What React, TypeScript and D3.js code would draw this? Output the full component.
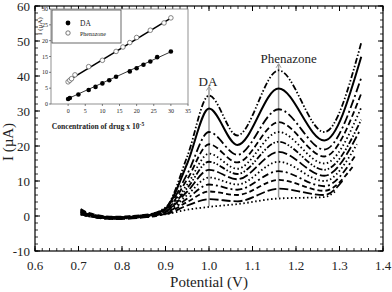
import React from "react";
import * as d3 from "d3";

// ---------- main chart data ----------
const xTicks = [0.6, 0.7, 0.8, 0.9, 1.0, 1.1, 1.2, 1.3, 1.4];
const yTicks = [-10, 0, 10, 20, 30, 40, 50, 60];

// control potentials (V) shared by all voltammograms (last point = endPotential)
const controlPotentials = [0.705, 0.72, 0.78, 0.85, 0.9, 0.95, 1.0, 1.065, 1.16, 1.265];
const endPotential = [1.35, 1.35, 1.35, 1.35, 1.35, 1.35, 1.345, 1.34, 1.335, 1.33, 1.31, 1.29];

const iStart = [1.8, 1.5, 1.2, 2.0, 1.0, 1.6, 0.8, 1.3, 0.6, 1.1, 0.5, 0.4];
const i072 = [0.8, 0.6, 0.4, 1.0, 0.3, 0.7, 0.2, 0.5, 0.0, 0.4, 0.1, 0.0];
const i078 = [-0.3, -0.5, -0.8, -0.2, -0.6, -0.4, -0.9, -0.5, -0.7, -0.3, -0.6, -0.8];
const i085 = [0.2, 0.0, -0.2, 0.3, -0.3, 0.1, -0.4, -0.2, 0.1, -0.3, 0.2, -0.1];
const i090 = [2.4, 2.1, 1.9, 1.7, 1.5, 1.3, 1.2, 1.0, 0.9, 0.7, 0.6, 0.5];
const i095 = [17, 15, 12, 10.5, 9, 8, 7, 6, 5, 4, 3, 1.8];
const daPeak = [34.4, 30.7, 24.0, 20.5, 17.8, 15.5, 13.2, 11.0, 9.0, 7.0, 4.8, 2.6];
const valley1 = [23.0, 20.3, 17.5, 15.3, 13.5, 12.0, 10.5, 9.0, 7.5, 6.0, 4.2, 3.4];
const phenPeak = [41.6, 36.4, 30.5, 26.8, 24.0, 21.2, 18.3, 15.5, 12.8, 10.3, 7.8, 5.0];
const valley2 = [24.0, 21.6, 19.0, 17.0, 15.0, 13.2, 11.5, 10.0, 8.5, 7.2, 6.0, 5.4];
const iEnd = [49.5, 45.5, 39.5, 35.0, 31.0, 27.5, 24.0, 20.5, 17.0, 14.0, 10.5, 7.0];

const dashStyles = [
  "6,2,1.5,2,1.5,2",
  "none",
  "9,3,2,3",
  "6,3",
  "1.5,2.5",
  "6,2,1.5,2,1.5,2",
  "9,3",
  "1.5,2.5",
  "7,3,2,3",
  "5,3",
  "9,3",
  "1.5,2.5",
];

// arrows (V, µA)
const daArrow = { e: 1.0, from: 2.8, to: 37 };
const phenArrow = { e: 1.16, from: 5.3, to: 43.5 };

// ---------- inset data ----------
const daConc = [0, 0.5, 3, 6, 8, 10, 12, 14, 18, 20, 22, 24, 26, 30];
const daCurrent = [1.6, 1.9, 3.0, 4.4, 5.4, 6.5, 7.5, 8.6, 10.3, 11.3, 12.4, 13.4, 14.8, 16.6];
const phenConc = [0, 0.5, 1, 2, 6, 10, 14, 16, 18, 20, 24, 28, 30];
const phenCurrent = [7.0, 7.5, 8.0, 9.2, 11.8, 13.8, 16.6, 18.0, 19.4, 21.0, 23.3, 25.6, 27.2];
const daFit = [1.7, 16.5];
const phenFit = [7.4, 27.1];
const fitConc = [0, 30];
const insetXTicks = [0, 5, 10, 15, 20, 25, 30, 35];
const insetYTicks = [0, 5, 10, 15, 20, 25, 30];

const FONT = "'Liberation Serif', 'Times New Roman', serif";

export default function App() {
  const x = d3.scaleLinear().domain([0.6, 1.4]).range([35, 383]);
  const y = d3.scaleLinear().domain([-10, 60]).range([251, 6]);

  const curves = daPeak.map((_, k) => {
    const vals = [iStart[k], i072[k], i078[k], i085[k], i090[k], i095[k], daPeak[k], valley1[k], phenPeak[k], valley2[k], iEnd[k]];
    const es = [...controlPotentials, endPotential[k]];
    return es.map((e, j) => [e, vals[j]] as [number, number]);
  });
  const line = d3
    .line<[number, number]>()
    .x((d) => x(d[0]))
    .y((d) => y(d[1]))
    .curve(d3.curveMonotoneX);

  const xMinor = d3.range(0.6, 1.4001, 0.1 / 6);
  const yMinor = d3.range(-10, 60.001, 2);

  // inset scales
  const ix = d3.scaleLinear().domain([-5, 35]).range([51, 188]);
  const iy = d3.scaleLinear().domain([0, 30]).range([104, 9]);

  const arrow = (a: { e: number; from: number; to: number }, key: string) => {
    const px = x(a.e);
    const y1 = y(a.from);
    const y2 = y(a.to);
    return (
      <g key={key} stroke="#9a9a9a" fill="none" strokeWidth={1.5}>
        <line x1={px} x2={px} y1={y1} y2={y2} />
        <path d={`M${px - 2.5},${y2 + 4} L${px},${y2} L${px + 2.5},${y2 + 4}`} strokeWidth={1} />
      </g>
    );
  };

  return (
    <svg
      width={392}
      height={292}
      style={{ position: "absolute", left: 0, top: 0, background: "#fff" }}
      fontFamily={FONT}
    >
      <rect x={0} y={0} width={392} height={292} fill="#fff" />
      {/* arrows behind curves */}
      {arrow(daArrow, "da")}
      {arrow(phenArrow, "ph")}

      {/* voltammograms */}
      {curves.map((c, k) => (
        <path
          key={k}
          d={line(c) || ""}
          fill="none"
          stroke="#000"
          strokeWidth={k === 1 ? 2 : 1.8}
          strokeDasharray={dashStyles[k]}
        />
      ))}

      {/* peak labels */}
      <text x={x(1.0) - 1} y={86} fontSize={13} textAnchor="middle" fill="#222">DA</text>
      <text x={x(1.16) + 10} y={63} fontSize={13} textAnchor="middle" fill="#222">Phenazone</text>

      {/* frame */}
      <rect x={35} y={6} width={348} height={245} fill="none" stroke="#000" strokeWidth={1.2} />
      {/* minor ticks */}
      {xMinor.map((v, i) => (
        <g key={"xm" + i} stroke="#000" strokeWidth={0.8}>
          <line x1={x(v)} x2={x(v)} y1={251} y2={248} />
          <line x1={x(v)} x2={x(v)} y1={6} y2={9} />
        </g>
      ))}
      {yMinor.map((v, i) => (
        <g key={"ym" + i} stroke="#000" strokeWidth={0.8}>
          <line x1={35} x2={38} y1={y(v)} y2={y(v)} />
          <line x1={383} x2={380} y1={y(v)} y2={y(v)} />
        </g>
      ))}
      {xTicks.map((v) => (
        <g key={"xt" + v}>
          <line x1={x(v)} x2={x(v)} y1={251} y2={246} stroke="#000" strokeWidth={1} />
          <line x1={x(v)} x2={x(v)} y1={6} y2={11} stroke="#000" strokeWidth={1} />
          <text x={x(v)} y={270} fontSize={13} textAnchor="middle" fill="#222">
            {v.toFixed(1)}
          </text>
        </g>
      ))}
      {yTicks.map((v) => (
        <g key={"yt" + v}>
          <line x1={35} x2={40} y1={y(v)} y2={y(v)} stroke="#000" strokeWidth={1} />
          <line x1={383} x2={378} y1={y(v)} y2={y(v)} stroke="#000" strokeWidth={1} />
          <text x={30} y={y(v) + 4.5} fontSize={13} textAnchor="end" fill="#222">
            {v}
          </text>
        </g>
      ))}
      <text x={209} y={287} fontSize={15} textAnchor="middle" fill="#222">Potential (V)</text>
      <text
        transform={`translate(13,142) rotate(-90)`}
        fontSize={15}
        textAnchor="middle"
        fill="#222"
      >
        I (µA)
      </text>

      {/* ---------- inset ---------- */}
      <g>
        <rect x={ix(-5)} y={iy(30)} width={ix(35) - ix(-5)} height={iy(0) - iy(30)} fill="#fff" stroke="#777" strokeWidth={0.8} />
        {insetXTicks.map((v) => (
          <g key={"ixt" + v}>
            <line x1={ix(v)} x2={ix(v)} y1={iy(0)} y2={iy(0) + 2} stroke="#333" strokeWidth={0.6} />
            <text x={ix(v)} y={iy(0) + 8.5} fontSize={6} textAnchor="middle" fill="#222">{v}</text>
          </g>
        ))}
        {insetYTicks.map((v) => (
          <g key={"iyt" + v}>
            <line x1={ix(-5)} x2={ix(-5) - 2} y1={iy(v)} y2={iy(v)} stroke="#333" strokeWidth={0.6} />
            <text x={ix(-5) - 3} y={iy(v) + 2} fontSize={6} textAnchor="end" fill="#222">{v}</text>
          </g>
        ))}
        <text transform={`translate(42,26) rotate(-90)`} fontSize={7} textAnchor="middle" fill="#222">
          I (µA)
        </text>
        <text x={98} y={129} fontSize={7.6} fontWeight="bold" textAnchor="middle" fill="#222">
          Concentration of drug x 10
          <tspan dy={-3} fontSize={5.5}>-5</tspan>
        </text>
        {/* fit lines */}
        <line x1={ix(fitConc[0])} x2={ix(fitConc[1])} y1={iy(phenFit[0])} y2={iy(phenFit[1])} stroke="#000" strokeWidth={1.6} />
        <line x1={ix(fitConc[0])} x2={ix(fitConc[1])} y1={iy(daFit[0])} y2={iy(daFit[1])} stroke="#000" strokeWidth={0.8} />
        {phenConc.map((c, i) => (
          <circle key={"p" + i} cx={ix(c)} cy={iy(phenCurrent[i])} r={2.3} fill="#fff" stroke="#666" strokeWidth={0.8} />
        ))}
        {daConc.map((c, i) => (
          <circle key={"d" + i} cx={ix(c)} cy={iy(daCurrent[i])} r={2.3} fill="#000" />
        ))}
        {/* legend */}
        <rect x={52} y={10} width={69} height={33} fill="#fff" stroke="#444" strokeWidth={0.8} />
        <circle cx={68} cy={23} r={2.4} fill="#000" />
        <text x={80} y={25.5} fontSize={7.5} fill="#222">DA</text>
        <circle cx={68} cy={33} r={2.2} fill="#fff" stroke="#555" strokeWidth={0.8} />
        <text x={80} y={35.5} fontSize={6} fill="#222">Phenazone</text>
      </g>
    </svg>
  );
}
